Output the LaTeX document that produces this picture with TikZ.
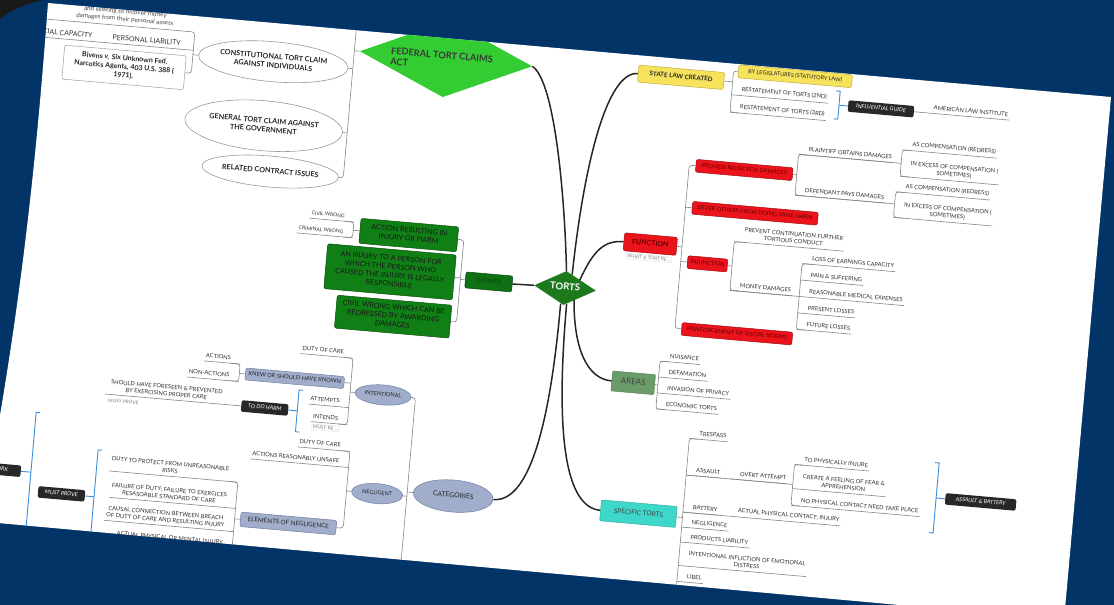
\documentclass[tikz,border=0pt]{standalone}
\usepackage{fontspec}
\setmainfont{Lato}
\usetikzlibrary{shapes.geometric}
\definecolor{navy}{RGB}{2,52,104}
\definecolor{fedg}{RGB}{51,204,51}
\definecolor{tortg}{RGB}{28,122,28}
\definecolor{defg}{RGB}{16,128,22}
\definecolor{defTxt}{RGB}{10,72,10}
\definecolor{bgrey}{RGB}{160,174,204}
\definecolor{bgreyD}{RGB}{112,126,162}
\definecolor{redb}{RGB}{236,20,28}
\definecolor{redd}{RGB}{160,10,15}
\definecolor{redtxt}{RGB}{100,0,0}
\definecolor{yel}{RGB}{247,226,92}
\definecolor{yelD}{RGB}{196,172,60}
\definecolor{areag}{RGB}{106,156,106}
\definecolor{cyanb}{RGB}{62,216,202}
\definecolor{blk}{RGB}{40,40,40}
\definecolor{brk}{RGB}{58,142,222}
\newcommand\zt[1]{\makebox[0pt]{\begin{tabular}{@{}c@{}}#1\end{tabular}}}
\newcommand\leafR[5][]{%
  \node[leaf,anchor=south west,#1] (#2) at ({#3+8},#4) {#5};
  \draw[ln] (#3,#4) -- (#2.south east);}
\newcommand\leafL[5][]{%
  \node[leaf,anchor=south east,#1] (#2) at ({#3-8},#4) {#5};
  \draw[ln] (#3,#4) -- (#2.south west);}
\newcommand\bkR[4]{%
  \draw[bkt] ({#1-4},#2) -- (#1,#2) -- (#1,#3) -- ({#1-4},#3);
  \draw[bkt] (#1,{(#2+#3)/2}) -- ({#1+#4},{(#2+#3)/2});}
\newcommand\bkL[4]{%
  \draw[bkt] ({#1+4},#2) -- (#1,#2) -- (#1,#3) -- ({#1+4},#3);
  \draw[bkt] (#1,{(#2+#3)/2}) -- ({#1-#4},{(#2+#3)/2});}
\tikzset{
 ln/.style={draw=black!48, line width=0.6pt},
 br/.style={draw=black!85, line width=1.5pt},
 bkt/.style={draw=brk, line width=0.9pt},
 leaf/.style={inner xsep=1.5pt, inner ysep=3.3pt, font=\fontsize{5.8}{7}\selectfont, text=black!80, align=center},
 note/.style={draw=black!12, rounded corners=1pt, inner xsep=1.5pt, inner ysep=1pt, font=\fontsize{4.8}{5.5}\selectfont, text=black!50},
 fx/.style={inner sep=0pt, align=center},
 ybox/.style={fx, rounded corners=2pt, fill=yel, draw=yelD, line width=0.5pt, text=black!85},
 redbox/.style={fx, rounded corners=2pt, fill=redb, draw=redd, text=redtxt, line width=0.5pt, font=\fontsize{5.7}{6.5}\selectfont, minimum height=12.8pt},
 blkbox/.style={fx, rounded corners=2pt, fill=blk, text=white, font=\itshape\fontsize{5.6}{6.5}\selectfont, minimum height=11.5pt},
 gbox/.style={fx, rounded corners=2pt, fill=defg, draw=defg!60!black, line width=0.5pt, text=black!90, font=\fontsize{7.2}{8.6}\selectfont},
 bgbox/.style={fx, rounded corners=2pt, fill=bgrey, draw=bgreyD, line width=0.5pt, text=black!85},
 bgell/.style={ellipse, fx, fill=bgrey, draw=bgreyD, line width=0.5pt, text=black!85},
 ell/.style={ellipse, fx, fill=white, draw=black!40, line width=0.6pt, text=black!85, font=\bfseries\fontsize{7.2}{9}\selectfont},
}
\begin{document}
\begin{tikzpicture}[x=1pt,y=-1pt]
\useasboundingbox (0,0) rectangle (1114,605);
\fill[navy] (0,0) rectangle (1114,605);
\fill[black!90] (0,0) -- (0,19) .. controls (12,10) and (26,3) .. (44,0) -- cycle;
\fill[white] (48,3) .. controls (40,110) and (28,250) .. (0,415) -- (-2,523) -- (1064,620) -- (1111,97) -- cycle;
\begin{scope}
\clip (48,3) .. controls (40,110) and (28,250) .. (0,415) -- (-2,523) -- (1064,620) -- (1111,97) -- cycle;
\begin{scope}[shift={(565,288)}, rotate=-5, transform shape]

% ---------- centre
\node[diamond, aspect=2, fx, minimum width=62pt, minimum height=34pt, fill=tortg, text=white, font=\bfseries\fontsize{9.5}{10}\selectfont] (torts) at (0,0) {\zt{TORTS}};

% ---------- federal
\node[diamond, fx, minimum width=173pt, minimum height=77pt, fill=fedg] (fed) at (-138.5,-218) {};
\node[anchor=west, align=left, inner sep=0pt, text=black!78, font=\bfseries\fontsize{9.2}{10.5}\selectfont] (fedt) at (-194,-216) {FEDERAL TORT CLAIMS\\ACT};
\node[ell, minimum width=150pt, minimum height=40pt, anchor=east] (con) at (-235,-200) {\zt{CONSTITUTIONAL TORT CLAIM\\AGAINST INDIVIDUALS}};
\node[ell, minimum width=158pt, minimum height=50pt, anchor=east] (gen) at (-235,-135.4) {\zt{GENERAL TORT CLAIM AGAINST\\THE GOVERNMENT}};
\node[ell, minimum width=137pt, minimum height=31pt, anchor=east] (rel) at (-235,-90.3) {\zt{RELATED CONTRACT ISSUES}};
\draw[ln] (fed.west) -- (-230.5,-218);
\draw[ln, rounded corners=3pt] (-230.5,-330) -- (-230.5,-90.3) -- (rel.east);
\draw[ln] (-230.5,-200) -- (con.east);
\draw[ln] (-230.5,-135.4) -- (gen.east);
\node[fx, rounded corners=2pt, draw=black!45, fill=white, text=black!85, font=\bfseries\fontsize{7}{8.6}\selectfont, minimum width=122pt, minimum height=34pt, anchor=east] (biv) at (-397.3,-181.3) {\zt{Bivens v. Six Unknown Fed.\\Narcotics Agents, 403 U.S. 388 (\\1971).}};
\draw[ln] (con.west) -- (-391,-200);
\draw[ln, rounded corners=3pt] (-560,-222.7) -- (-391,-222.7) -- (-391,-181.3) -- (biv.east);
\draw[ln] (-391,-204.4) -- (-570,-204.4);
\node[leaf, anchor=south, font=\fontsize{6.3}{7.6}\selectfont, text=black!70] (dmg) at (-462,-222.7) {and seeking to recover money\\damages from their personal assets};
\node[leaf, anchor=south, font=\fontsize{7}{8}\selectfont] (pl) at (-438.3,-204.4) {PERSONAL LIABILITY};
\node[leaf, anchor=south east, font=\fontsize{7}{8}\selectfont] (oc) at (-491,-204.4) {OFFICIAL CAPACITY};

% ---------- state law
\node[ybox, minimum width=86pt, minimum height=17pt, font=\bfseries\fontsize{6.3}{7}\selectfont, anchor=west] (state) at (54,-220) {\zt{STATE LAW CREATED}};
\node[ybox, minimum width=114pt, minimum height=13pt, font=\fontsize{5.5}{6.5}\selectfont, anchor=west] (leg) at (153.6,-231) {\zt{BY LEGISLATURES (STATUTORY LAW)}};
\draw[ln] (state.east) -- (149,-220);
\draw[ln, rounded corners=3pt] (leg.west) -- (149,-231) -- (149,-189.5) -- (158,-189.5);
\leafR{r2}{149}{-207}{RESTATEMENT OF TORTS (2ND)}
\leafR{r3}{149}{-189.5}{RESTATEMENT OF TORTS (3RD)}
\bkR{257}{-220}{-192}{9}
\node[blkbox, minimum width=66pt, anchor=west] (ig) at (266,-206) {\zt{INFLUENTIAL GUIDE}};
\draw[ln] (ig.east) -- (342,-206);
\leafR{ali}{342}{-206}{AMERICAN LAW INSTITUTE}

% ---------- function
\node[redbox, minimum width=53pt, minimum height=18pt, font=\bfseries\fontsize{7}{8}\selectfont, anchor=west] (fun) at (54.4,-51.2) {\zt{FUNCTION}};
\node[note] (what) at (81,-37.2) {WHAT A TORT RE...};
\node[redbox, minimum width=97pt, anchor=west] (prov) at (119.5,-133.2) {\zt{PROVIDE RELIEF FOR DAMAGES}};
\node[redbox, minimum width=126pt, anchor=west] (det) at (119.5,-91) {\zt{DETER OTHERS FROM DOING SAME HARM}};
\node[redbox, minimum width=40pt, anchor=west] (inj) at (119.5,-36.5) {\zt{INJUNCTION}};
\node[redbox, minimum width=111pt, anchor=west] (reinf) at (119.5,30.6) {\zt{REINFORCEMENT OF SOCIAL NORMS}};
\draw[ln] (fun.east) -- (113,-51.2);
\draw[ln, rounded corners=3pt] (prov.west) -- (113,-133.2) -- (113,30.6) -- (reinf.west);
\draw[ln] (113,-91) -- (det.west);
\draw[ln] (113,-36.5) -- (inj.west);
% provide relief
\draw[ln] (prov.east) -- (221,-133.2);
\draw[ln, rounded corners=3pt] (230,-153.5) -- (221,-153.5) -- (221,-112.5) -- (230,-112.5);
\leafR{pla}{221}{-153.5}{PLAINTIFF OBTAINS DAMAGES}
\draw[ln] (221,-153.5) -- (324,-153.5);
\leafR{dfd}{221}{-112.5}{DEFENDANT PAYS DAMAGES}
\draw[ln] (221,-112.5) -- (321,-112.5);
\draw[ln, rounded corners=3pt] (333,-167) -- (324,-167) -- (324,-140.5) -- (333,-140.5);
\leafR{pla1}{324}{-167}{AS COMPENSATION (REDRESS)}
\leafR{pla2}{324}{-140.5}{IN EXCESS OF COMPENSATION (\\SOMETIMES)}
\draw[ln, rounded corners=3pt] (330,-124.7) -- (321,-124.7) -- (321,-99) -- (330,-99);
\leafR{dfd1}{321}{-124.7}{AS COMPENSATION (REDRESS)}
\leafR{dfd2}{321}{-99}{IN EXCESS OF COMPENSATION (\\SOMETIMES)}
% injunction
\draw[ln] (inj.east) -- (164.5,-36.5);
\draw[ln, rounded corners=3pt] (173,-61) -- (164.5,-61) -- (164.5,-12) -- (173,-12);
\leafR{prev}{164.5}{-61}{PREVENT CONTINUATION FURTHER\\TORTIOUS CONDUCT}
\leafR{mon}{164.5}{-12}{MONEY DAMAGES}
\draw[ln] (164.5,-12) -- (234,-12);
\draw[ln, rounded corners=3pt] (243,-45) -- (234,-45) -- (234,21) -- (243,21);
\leafR{m1}{234}{-45}{LOSS OF EARNINGS CAPACITY}
\leafR{m2}{234}{-28.5}{PAIN \& SUFFERING}
\leafR{m3}{234}{-12}{REASONABLE MEDICAL EXPENSES}
\leafR{m4}{234}{4.5}{PRESENT LOSSES}
\leafR{m5}{234}{21}{FUTURE LOSSES}

% ---------- areas
\node[fx, rounded corners=1pt, fill=areag, draw=areag!75!black, line width=0.4pt, text=black!75, font=\fontsize{8}{9}\selectfont, minimum width=43pt, minimum height=20pt, anchor=west] (areas) at (54.5,88.5) {\zt{AREAS}};
\draw[ln] (areas.east) -- (101,88.5);
\draw[ln, rounded corners=3pt] (110,64.5) -- (101,64.5) -- (101,112.5) -- (110,112.5);
\leafR{a1}{101}{64.5}{NUISANCE}
\leafR{a2}{101}{80.5}{DEFAMATION}
\leafR{a3}{101}{96.5}{INVASION OF PRIVACY}
\leafR{a4}{101}{112.5}{ECONOMIC TORTS}

% ---------- specific torts
\node[fx, rounded corners=1pt, fill=cyanb, draw=cyanb!75!black, line width=0.4pt, text=black!75, font=\fontsize{6.6}{8}\selectfont, minimum width=76pt, minimum height=21pt, anchor=west] (spec) at (54.6,218.4) {\zt{SPECIFIC TORTS}};
\draw[ln] (spec.east) -- (137,218.4);
\draw[ln, rounded corners=3pt] (146,139) -- (137,139) -- (137,310);
\leafR{s1}{137}{139}{TRESPASS}
\leafR{s2}{137}{175.8}{ASSAULT}
\draw[ln] (137,175.8) -- (244,175.8);
\leafR{s2a}{181}{175.8}{OVERT ATTEMPT}
\draw[ln, rounded corners=3pt] (253,155.8) -- (244,155.8) -- (244,196.8) -- (253,196.8);
\leafR{o1}{244}{155.8}{TO PHYSICALLY INJURE}
\leafR{o2}{244}{180}{CREATE A FEELING OF FEAR \&\\APPREHENSION}
\leafR{o3}{244}{196.8}{NO PHYSICAL CONTACT NEED TAKE PLACE}
\leafR{s3}{137}{213}{BATTERY}
\draw[ln] (137,213) -- (182,213);
\leafR{s3a}{182}{213}{ACTUAL PHYSICAL CONTACT; INJURY}
\leafR{s4}{137}{228}{NEGLIGENCE}
\leafR{s5}{137}{243}{PRODUCTS LIABILITY}
\leafR{s6}{137}{266.5}{INTENTIONAL INFLICTION OF EMOTIONAL\\DISTRESS}
\leafR{s7}{137}{282.5}{LIBEL}
\bkR{388}{141.7}{212}{9}
\node[blkbox, minimum width=71pt, anchor=west] (ab) at (397,176.9) {\zt{ASSAULT \& BATTERY}};

% ---------- defined
\node[fx, rounded corners=2pt, fill=defg!88!black, draw=defg!55!black, line width=0.5pt, text=defTxt, font=\fontsize{6}{7}\selectfont, minimum width=47pt, minimum height=16pt, anchor=east] (def) at (-52.7,0.6) {\zt{DEFINED}};
\node[gbox, minimum width=98pt, minimum height=25pt, anchor=east] (act) at (-111,-39.1) {\zt{ACTION RESULTING IN\\INJURY OR HARM}};
\node[gbox, minimum width=129pt, minimum height=45pt, anchor=east] (injp) at (-111,-0.9) {\zt{AN INJURY TO A PERSON FOR\\WHICH THE PERSON WHO\\CAUSED THE INJURY IS LEGALLY\\RESPONSIBLE}};
\node[gbox, minimum width=115pt, minimum height=33pt, anchor=east] (civ) at (-111,43.5) {\zt{CIVIL WRONG WHICH CAN BE\\REDRESSED BY AWARDING\\DAMAGES}};
\draw[ln] (def.west) -- (-105,0.6);
\draw[ln, rounded corners=3pt] (act.east) -- (-105,-39.1) -- (-105,43.5) -- (civ.east);
\draw[ln] (-105,-0.9) -- (injp.east);
\draw[ln] (act.west) -- (-216,-39.1);
\draw[ln, rounded corners=3pt] (-225,-47.3) -- (-216,-47.3) -- (-216,-31.5) -- (-225,-31.5);
\leafL[font=\fontsize{5}{6}\selectfont]{cw}{-216}{-47.3}{CIVIL WRONG}
\leafL[font=\fontsize{5}{6}\selectfont]{crw}{-216}{-31.5}{CRIMINAL WRONG}

% ---------- categories
\node[bgell, minimum width=80pt, minimum height=32pt, font=\fontsize{6.8}{8}\selectfont, anchor=east] (cat) at (-53,217) {\zt{CATEGORIES}};
\node[bgell, minimum width=56pt, minimum height=20pt, font=\fontsize{5.6}{6.5}\selectfont, anchor=east] (int) at (-143.7,122.4) {\zt{INTENTIONAL}};
\node[bgell, minimum width=51pt, minimum height=20pt, font=\fontsize{5.4}{6.5}\selectfont, anchor=east] (neg) at (-143.5,221.2) {\zt{NEGLIGENT}};
\draw[ln] (cat.west) -- (-139.4,217);
\draw[ln, rounded corners=3pt] (int.east) -- (-139.4,122.4) -- (-139.4,340);
\draw[ln] (-139.4,221.2) -- (neg.east);
% intentional
\node[bgbox, minimum width=99pt, minimum height=12pt, font=\fontsize{5.7}{6.5}\selectfont, anchor=east] (knew) at (-211.6,113.5) {\zt{KNEW OR SHOULD HAVE KNOWN}};
\draw[ln] (int.west) -- (-205,122.4);
\draw[ln, rounded corners=3pt] (-214,88.4) -- (-205,88.4) -- (-205,155.2) -- (-214,155.2);
\draw[ln] (-205,113.5) -- (knew.east);
\leafL{i1}{-205}{88.4}{DUTY OF CARE}
\leafL{i3}{-205}{138}{ATTEMPTS}
\leafL{i4}{-205}{155.2}{INTENDS}
\node[note, anchor=north east] (mb) at (-212,157.3) {MUST BE ...};
\bkL{-256}{124.7}{166.7}{9}
\node[blkbox, minimum width=47pt, anchor=east] (tdh) at (-265,145.7) {\zt{TO DO HARM}};
\draw[ln] (tdh.west) -- (-449,145.7);
\node[leaf, anchor=south] (shf) at (-388,145.7) {SHOULD HAVE FORESEEN \& PREVENTED\\BY EXERCISING PROPER CARE};
\node[note, draw=none] (mp) at (-430,151.8) {MUST PROVE};
\draw[ln] (knew.west) -- (-317,113.5);
\draw[ln, rounded corners=3pt] (-326,104.1) -- (-317,104.1) -- (-317,121.6) -- (-326,121.6);
\leafL{k1}{-317}{104.1}{ACTIONS}
\leafL{k2}{-317}{121.6}{NON-ACTIONS}
% negligent
\node[bgbox, minimum width=96pt, minimum height=14.5pt, font=\fontsize{6.2}{7}\selectfont, anchor=east] (elem) at (-206.9,258.7) {\zt{ELEMENTS OF NEGLIGENCE}};
\draw[ln] (neg.west) -- (-200,221.2);
\draw[ln, rounded corners=3pt] (-209,181.6) -- (-200,181.6) -- (-200,258.7) -- (elem.east);
\leafL{n1}{-200}{181.6}{DUTY OF CARE}
\leafL{n2}{-200}{197.7}{ACTIONS REASONABLY UNSAFE}
\draw[ln] (elem.west) -- (-309,258.7);
\draw[ln, rounded corners=3pt] (-318,222) -- (-309,222) -- (-309,300);
\leafL{e1}{-309}{222}{DUTY TO PROTECT FROM UNREASONABLE\\RISKS}
\leafL{e2}{-309}{248.3}{FAILURE OF DUTY; FAILURE TO EXERCICES\\RESASOABLE STANDARD OF CARE}
\leafL{e3}{-309}{271.6}{CAUSAL CONNECTION BETWEEN BREACH\\OF DUTY OF CARE AND RESULTING INJURY}
\leafL{e4}{-309}{289}{ACTUAL PHYSICAL OR MENTAL INJURY}
\bkL{-451}{202}{296}{9}
\node[blkbox, minimum width=47pt, anchor=east] (mpv) at (-460,249) {\zt{MUST PROVE}};
\bkL{-516}{170}{290}{10}
\node[blkbox, minimum width=60pt, anchor=east] (xk) at (-526,230) {\zt{TO DO WORK}};

% ---------- main branches
\draw[br] (torts.north) .. controls (-8,-90) and (-28,-205) .. (fed.east);
\draw[br] (6,-14) .. controls (8,-120) and (22,-220) .. (state.west);
\draw[br] (14,-9) .. controls (25,-40) and (35,-51.2) .. (fun.west);
\draw[br] (torts.west) -- (def.east);
\draw[br] (10,11) .. controls (14,60) and (30,88.5) .. (areas.west);
\draw[br] (-3,16) .. controls (-3,150) and (-20,217) .. (cat.east);
\draw[br] (3,16) .. controls (3,150) and (20,218.4) .. (spec.west);
\end{scope}
\end{scope}
\end{tikzpicture}
\end{document}
